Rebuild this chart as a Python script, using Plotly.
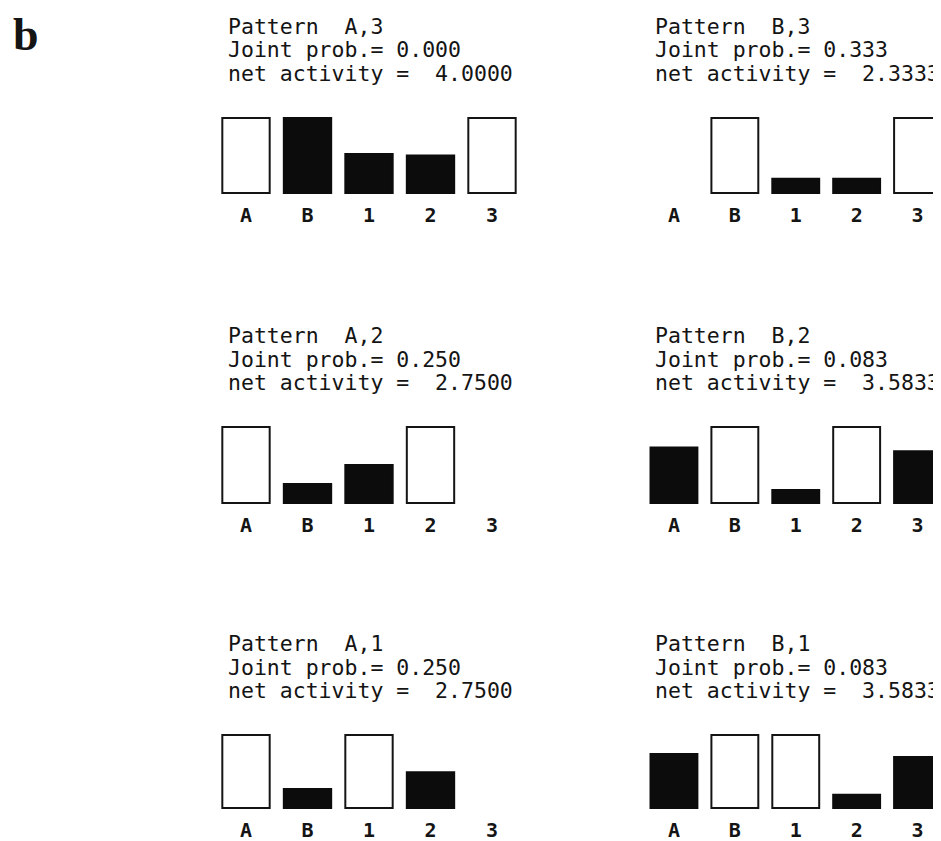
import plotly.graph_objects as go

# ---------------- data ----------------
units = ["A", "B", "1", "2", "3"]
patterns = ["A,3", "B,3", "A,2", "B,2", "A,1", "B,1"]
joint_prob = [0.000, 0.333, 0.250, 0.083, 0.250, 0.083]
net_activity = [4.0000, 2.3333, 2.7500, 3.5833, 2.7500, 3.5833]

# activation of each unit (A, B, 1, 2, 3)
act_A3 = [1.0, 1.0, 0.52, 0.50, 1.0]
act_B3 = [0.0, 1.0, 0.19, 0.19, 1.0]
act_A2 = [1.0, 0.25, 0.50, 1.0, 0.0]
act_B2 = [0.73, 1.0, 0.17, 1.0, 0.68]
act_A1 = [1.0, 0.26, 1.0, 0.49, 0.0]
act_B1 = [0.74, 1.0, 1.0, 0.18, 0.70]
activations = [act_A3, act_B3, act_A2, act_B2, act_A1, act_B1]

# which units are clamped (drawn as open boxes)
clamp_A3 = ["A", "3"]
clamp_B3 = ["B", "3"]
clamp_A2 = ["A", "2"]
clamp_B2 = ["B", "2"]
clamp_A1 = ["A", "1"]
clamp_B1 = ["B", "1"]
clamped = [clamp_A3, clamp_B3, clamp_A2, clamp_B2, clamp_A1, clamp_B1]

# ---------------- layout geometry (pixels of the page) ----------------
OFF = 8                      # default page margin around the plot div
W, H = 941 - OFF, 841 - OFF
# column: (left px, category pitch px, right px, text inset px)
cols = [(215.25, 61.5, 522.75, 12.0), (643.5, 60.9, 941.0, 10.5)]
# row: (base px, unit height px)
rows = [(193.0, 75.0), (503.0, 76.0), (808.0, 73.0)]
Y0, Y1 = -0.03, 1.08

FONT = "DejaVu Sans Mono"
INK = "#141414"
NBSP = "\u00a0"

fig = go.Figure()
annotations = []

for i, pat in enumerate(patterns):
    r, c = divmod(i, 2)
    left, pitch, right, inset = cols[c]
    left -= OFF
    right -= OFF
    base, unit = rows[r]
    base -= OFF
    ax = "" if i == 0 else str(i + 1)
    vals = activations[i]
    open_y = [v if u in clamped[i] else None for u, v in zip(units, vals)]
    fill_y = [None if u in clamped[i] else v for u, v in zip(units, vals)]
    fill_lw = [0 if (v is None or v == 0) else 2 for v in fill_y]

    fig.add_trace(go.Bar(x=units, y=open_y, xaxis="x" + ax, yaxis="y" + ax,
                         marker=dict(color="white", line=dict(color=INK, width=2)),
                         showlegend=False, hoverinfo="skip"))
    fig.add_trace(go.Bar(x=units, y=fill_y, xaxis="x" + ax, yaxis="y" + ax,
                         marker=dict(color="#0c0c0c", line=dict(color="#0c0c0c", width=fill_lw)),
                         showlegend=False, hoverinfo="skip"))

    xr_end = -0.5 + (right - left) / pitch
    top_px = base - Y1 * unit
    bot_px = base - Y0 * unit
    fig.update_layout(**{
        "xaxis" + ax: dict(domain=[left / W, min(right / W, 1.0)], anchor="y" + ax,
                           range=[-0.5, xr_end], type="category",
                           categoryorder="array", categoryarray=units,
                           showline=False, showgrid=False, zeroline=False,
                           ticks="", ticklabelstandoff=6,
                           tickfont=dict(family=FONT, size=20, color=INK, weight="bold"),
                           fixedrange=True),
        "yaxis" + ax: dict(domain=[1 - bot_px / H, 1 - top_px / H], anchor="x" + ax,
                           range=[Y0, Y1], visible=False, showgrid=False,
                           zeroline=False, fixedrange=True),
    })

    # panel header text
    tx = (left + inset) / W
    lines = [
        f"Pattern{NBSP}{NBSP}{pat}",
        f"Joint prob.= {joint_prob[i]:.3f}",
        f"net activity ={NBSP}{NBSP}{net_activity[i]:.4f}",
    ]
    bar_top = base - unit
    offsets = [-78, -54.5, -31]
    for ln, off in zip(lines, offsets):
        annotations.append(dict(
            text=ln, xref="paper", yref="paper", x=tx, y=1 - (bar_top + off) / H,
            xanchor="left", yanchor="bottom", showarrow=False,
            font=dict(family=FONT, size=21.5, color=INK), borderpad=0,
        ))

annotations.append(dict(text="<b>b</b>", xref="paper", yref="paper",
                        x=(12 - OFF) / W, y=1.0, xanchor="left", yanchor="top",
                        showarrow=False, borderpad=0,
                        font=dict(family="Liberation Serif", size=46, color=INK)))

fig.update_layout(
    width=W, height=H, margin=dict(l=0, r=0, t=0, b=0),
    paper_bgcolor="white", plot_bgcolor="white",
    barmode="overlay", bargap=0.23,
    annotations=annotations,
)

fig.write_html("out.html")
